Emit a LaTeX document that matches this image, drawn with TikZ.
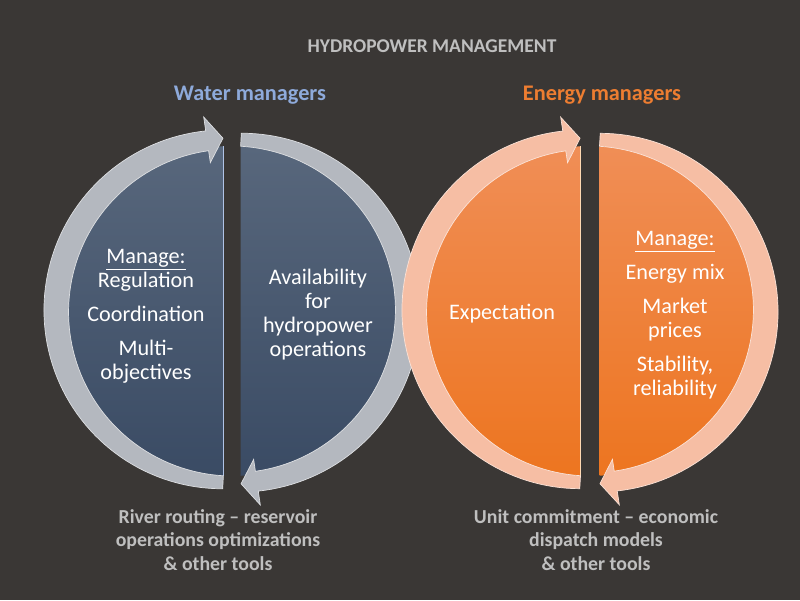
\documentclass[tikz,border=0pt]{standalone}
\usepackage{fontspec}
\setmainfont{Carlito}
\usetikzlibrary{positioning}
\definecolor{bgdark}{RGB}{58,55,53}
\definecolor{titlegray}{RGB}{191,191,191}
\definecolor{waterblue}{RGB}{142,170,219}
\definecolor{energyorange}{RGB}{237,125,49}
\definecolor{bluetop}{RGB}{88,103,124}
\definecolor{bluebot}{RGB}{58,75,100}
\definecolor{orangetop}{RGB}{240,142,86}
\definecolor{orangebot}{RGB}{237,117,32}
\definecolor{grayband}{RGB}{180,184,191}
\definecolor{salmonband}{RGB}{246,190,164}
\tikzset{
  halffill/.style={top color=#1top, bottom color=#1bot},
  chordline/.style={draw=#1, line width=0.8pt},
  arrowband/.style={fill=#1band, draw=white!55!#1band, line width=0.7pt},
  headtext/.style={font=\fontsize{22.3}{26}\selectfont\bfseries, text=#1, inner sep=0pt},
  titletext/.style={font=\fontsize{19.5}{22}\selectfont\bfseries, text=titlegray, inner sep=0pt},
  innertext/.style={font=\fontsize{22.2}{24}\selectfont, text=white, align=center, inner sep=0pt},
  tooltext/.style={font=\fontsize{19.8}{23.5}\selectfont\bfseries, text=titlegray, align=center, inner sep=0pt},
}
\newcommand{\circarrow}[5]{%
  \begin{scope}[shift={#1}]
    \filldraw[arrowband=#5]
      plot[domain=#2:#3, samples=80] (\x:{178+4*(\x-#2)/(#3-#2)+8*sin(180/(#3-#2)*(\x-#2))})
      -- (#3:196) -- (#4:173) -- (#3:150)
      -- plot[domain=#3:#2, samples=80] (\x:{165-3*(\x-#2)/(#3-#2)}) -- cycle;
  \end{scope}}
\newcommand{\halfdisc}[4]{%
  \begin{scope}[shift={#1}]
    \shade[halffill=#4] (#2:165) arc[start angle=#2, end angle=#3, radius=165] -- cycle;
  \end{scope}}

\begin{document}
\begin{tikzpicture}[x=1pt, y=1pt]
  \fill[bgdark] (0,0) rectangle (800,600);
  \useasboundingbox (0,0) rectangle (800,600);

  \node[titletext, anchor=base] (title) at (432,547) {HYDROPOWER MANAGEMENT};
  \node[headtext=waterblue, anchor=base] (water) at (250,499) {Water managers};
  \node[headtext=energyorange, anchor=base] (energy) at (602,499) {Energy managers};

  \halfdisc{(232,289)}{93}{267}{blue}
  \draw[chordline=waterblue!70!white] (232,289) ++(93:165) -- ++(0,-329.5);
  \circarrow{(232,289)}{267}{98.3}{93}{gray}
  \halfdisc{(232,289)}{-87}{87}{blue}
  \circarrow{(232,289)}{87}{-81.7}{-87}{gray}

  \halfdisc{(590,289)}{93.3}{266.7}{orange}
  \draw[chordline=orange!30!white] (590,289) ++(93.3:165) -- ++(0,-329.5);
  \circarrow{(590,289)}{266.7}{98.6}{93.3}{salmon}
  \halfdisc{(590,289)}{-86.7}{86.7}{orange}
  \circarrow{(590,289)}{86.7}{-81.4}{-86.7}{salmon}

  \node[innertext, anchor=base] (wmanage) at (146,220.5)
    {\underline{Manage:}\\Regulation\\[10pt]Coordination\\[10pt]Multi-\\objectives};
  \node[innertext, anchor=base] (wavail) at (318,243.5)
    {Availability\\for\\hydropower\\operations};
  \node[innertext, anchor=base] (eexpect) at (502,280.5) {Expectation};
  \node[innertext, anchor=base] (emanage) at (675,204.5)
    {\underline{Manage:}\\[10pt]Energy mix\\[10pt]Market\\prices\\[10pt]Stability,\\reliability};

  \node[tooltext, anchor=base] (wtools) at (218,30)
    {River routing -- reservoir\\operations optimizations\\\& other tools};
  \node[tooltext, anchor=base] (etools) at (596,30)
    {Unit commitment -- economic\\dispatch models\\\& other tools};
\end{tikzpicture}
\end{document}
